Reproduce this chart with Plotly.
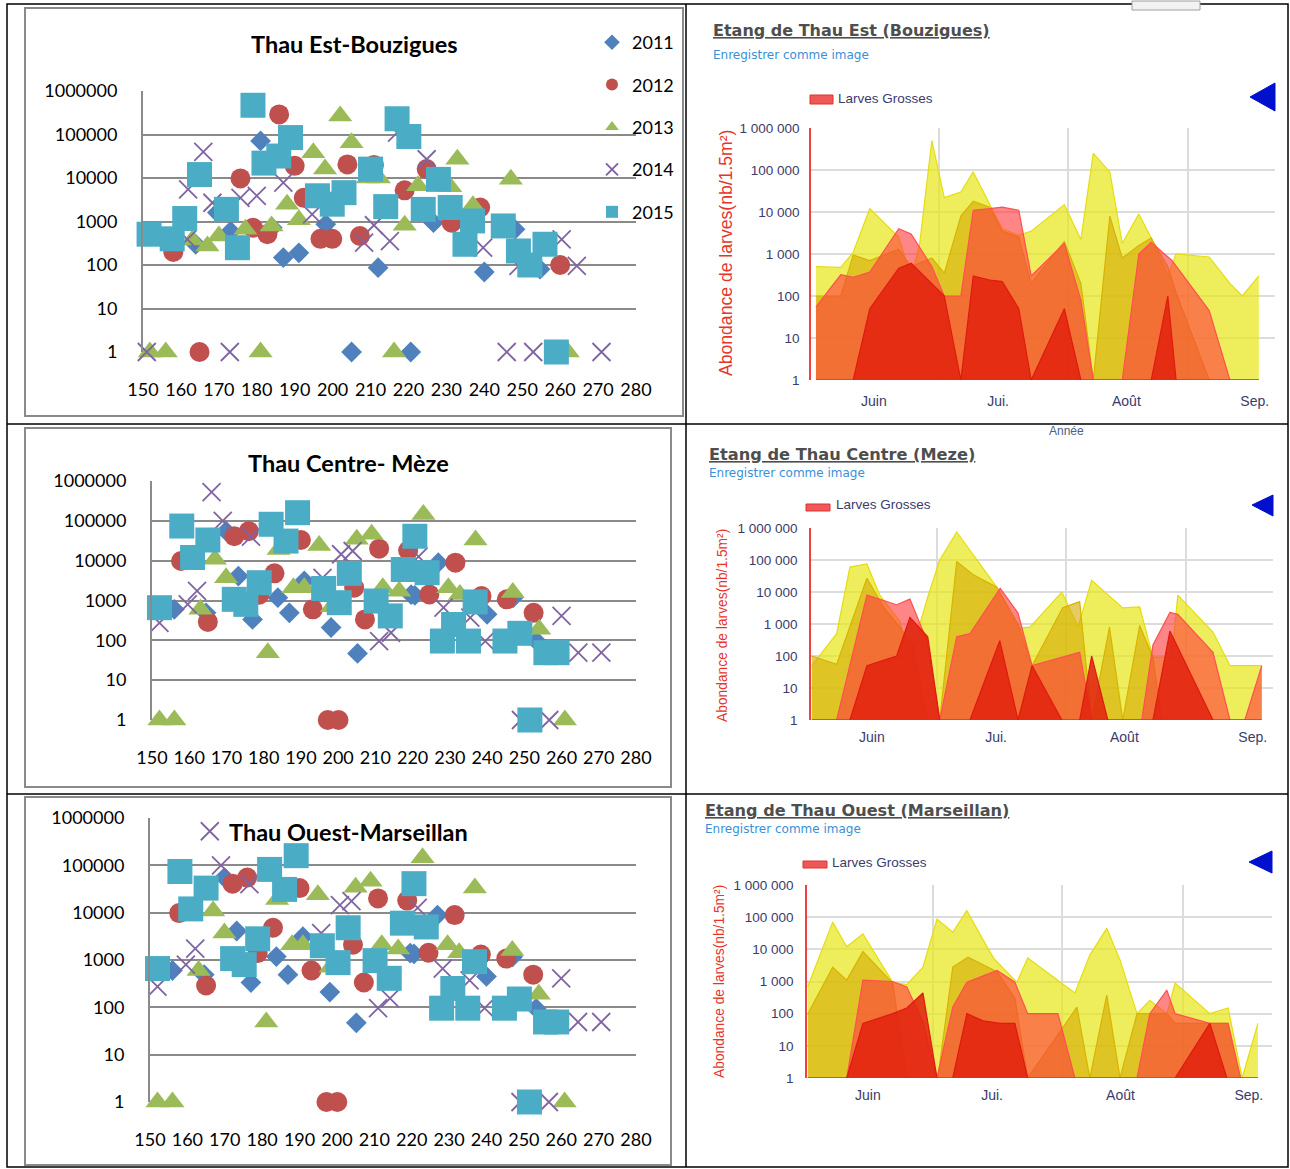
import plotly.graph_objects as go

W, H = 1290, 1169
def px(x): return x / W
def py(y): return 1 - y / H

# ---------------- scatter data (day of year, abundance) ----------------
YEARS = ["2011", "2012", "2013", "2014", "2015"]

est_2011_day = [181, 169.6, 173.1, 163.9, 184.1, 198.2, 187, 191.1, 212, 205, 220.6, 226.6, 240, 248.1, 254.7]
est_2011_val = [71000, 1600, 600, 300, 720, 860, 148, 190, 87, 1, 1, 940, 69, 660, 80]
est_2012_day = [185.9, 175.7, 190, 203.9, 210.9, 192.4, 219, 179, 182.8, 196.8, 199.9, 207.2, 158, 164.9, 224.8, 238.9, 231.4, 260]
est_2012_val = [290000, 9800, 19000, 20500, 20000, 3500, 5200, 720, 510, 400, 400, 465, 200, 1, 16000, 2100, 940, 100]
est_2013_day = [202, 205, 194.9, 198, 209.3, 212.2, 188, 191.1, 183.9, 177, 170, 167, 163, 219, 151.8, 156, 181, 216.2, 232.9, 247, 222.5, 231, 237, 262]
est_2013_val = [265000, 65000, 38000, 16000, 10000, 10000, 2500, 1100, 790, 660, 465, 275, 375, 820, 1, 1, 1, 1, 27000, 9300, 6600, 6300, 2300, 1]
est_2014_day = [165.9, 161.9, 168.3, 175.7, 180, 187, 194.6, 161.7, 210.9, 215.1, 208.3, 151, 172.9, 217, 224.8, 239.7, 260.4, 264.4, 245.9, 252.9, 270.9, 249]
est_2014_val = [40000, 5500, 2700, 3500, 3900, 7800, 1450, 390, 820, 355, 325, 1, 1, 110000, 27000, 250, 390, 95, 1, 1, 1, 95]
est_2015_day = [179, 188.9, 185.8, 181.9, 164.9, 210, 217, 220.1, 196, 199.9, 203, 214, 172, 161, 151.6, 157.7, 174.9, 227.9, 223.9, 231, 236.9, 234.9, 245, 249, 256, 252, 259]
est_2015_val = [470000, 85000, 32000, 22000, 12000, 16000, 230000, 90000, 3900, 2500, 4600, 2200, 1900, 1170, 510, 400, 250, 9300, 1900, 2100, 1030, 300, 790, 210, 300, 100, 1]

cen_2011_day = [169.9, 173.2, 156, 164.5, 177, 183.8, 186.9, 190.9, 198.1, 205.2, 219.6, 226.9, 220.6, 240, 247, 253.3]
cen_2011_val = [55000, 4100, 600, 490, 335, 1180, 490, 3100, 210, 47, 1400, 8900, 1350, 450, 1170, 95]
cen_2012_day = [172.1, 176, 157.8, 182.9, 178.8, 165, 193.2, 190, 204.3, 207.2, 211, 218.8, 197.2, 200.1, 231.5, 224.5, 238.5, 245.3, 252.5]
cen_2012_val = [41000, 55000, 9800, 4800, 1400, 290, 600, 33000, 2100, 335, 20000, 18000, 1, 1, 8900, 1420, 1300, 1070, 490]
cen_2013_day = [194.9, 205, 209, 184, 166.9, 169.9, 188, 190.9, 163, 181.1, 216.4, 212, 222.9, 236.9, 229.6, 232.7, 246.9, 254, 152, 156, 260.9, 198.3]
cen_2013_val = [24000, 34500, 46000, 19000, 10800, 3700, 2100, 2100, 600, 49, 1700, 2100, 145000, 33000, 2100, 1420, 1580, 190, 1, 1, 1, 700]
cen_2014_day = [166, 169, 162.1, 159.6, 152, 176.6, 200.8, 203.9, 211, 214.2, 195.8, 221.6, 228.3, 235.5, 239.5, 260, 264.5, 270.7, 249.1, 256.7]
cen_2014_val = [525000, 100000, 1740, 800, 275, 40000, 14500, 17500, 96, 155, 3700, 12600, 660, 370, 96, 410, 49, 49, 1, 1]
cen_2015_day = [189.1, 182, 158, 165, 186, 160.9, 203, 178.8, 196.1, 200.3, 172.1, 175.2, 152, 210.2, 214, 217.5, 220.6, 223.9, 236.8, 231, 228, 235, 244.8, 248.8, 255.8, 258.8, 251.5]
cen_2015_val = [160000, 82000, 74000, 33000, 31000, 12000, 4800, 2800, 2000, 880, 1070, 800, 660, 970, 410, 6000, 41000, 5000, 920, 250, 96, 96, 96, 150, 49, 49, 1]

EST = {"2011": (est_2011_day, est_2011_val), "2012": (est_2012_day, est_2012_val),
       "2013": (est_2013_day, est_2013_val), "2014": (est_2014_day, est_2014_val),
       "2015": (est_2015_day, est_2015_val)}
CEN = {"2011": (cen_2011_day, cen_2011_val), "2012": (cen_2012_day, cen_2012_val),
       "2013": (cen_2013_day, cen_2013_val), "2014": (cen_2014_day, cen_2014_val),
       "2015": (cen_2015_day, cen_2015_val)}

LEFT_Y_TICKS = [1, 10, 100, 1000, 10000, 100000, 1000000]
LEFT_Y_TEXT = ["1", "10", "100", "1000", "10000", "100000", "1000000"]
LEFT_X_TICKS = list(range(150, 281, 10))

# ---------------- area chart data (day of year, larvae / 1.5 m3) ----------------
est_pet_day = [138, 144, 147, 151, 158, 161, 163, 166, 169, 173, 176, 180, 183, 187, 190, 198, 202, 205, 209, 212, 216, 219, 223, 225, 233, 238, 241, 245]
est_pet_val = [500, 480, 1100, 12000, 2500, 280, 1600, 500000, 22000, 30000, 90000, 15000, 4000, 2800, 3500, 15000, 2200, 250000, 90000, 1800, 9000, 2400, 300, 1000, 850, 200, 100, 300]
est_moy_day = [138, 144, 147, 151, 155, 158, 161, 166, 169, 173, 176, 180, 183, 187, 190, 198, 202, 205, 209, 212, 216, 219, 223, 225, 233, 245]
est_moy_val = [100, 100, 950, 700, 1000, 1300, 500, 800, 350, 8000, 18000, 13000, 3500, 2500, 200, 2000, 200, 1, 8000, 800, 1600, 2400, 500, 120, 1, 1]
est_gro_day = [138, 144, 147, 151, 158, 161, 166, 169, 173, 176, 180, 183, 187, 190, 198, 202, 205, 212, 216, 219, 224, 233, 238, 245]
est_gro_val = [55, 320, 280, 370, 4000, 3000, 500, 100, 100, 11000, 12000, 13000, 11000, 300, 1800, 80, 1, 1, 1000, 1900, 700, 45, 1, 1]
est_ped_day = [138, 147, 151, 158, 161, 169, 173, 176, 180, 183, 187, 190, 198, 202, 219, 223, 225, 245]
est_ped_val = [1, 1, 50, 460, 600, 100, 1, 300, 240, 220, 50, 1, 50, 1, 1, 100, 1, 1]

cen_pet_day = [137.5, 143.5, 146.7, 150.8, 153.9, 158.8, 161.2, 163.1, 165.5, 168.4, 172.5, 176.4, 182.2, 187.3, 190.2, 197.9, 201.8, 205.1, 212.6, 216.7, 219.9, 224.5, 225.9, 234.4, 238.5, 246.2]
cen_pet_val = [50, 500, 60000, 75000, 8000, 1200, 45, 600, 7000, 100000, 750000, 150000, 14000, 750, 800, 10000, 800, 23000, 3200, 3400, 90, 90, 8000, 560, 50, 50]
cen_moy_day = [137.5, 143.5, 150.8, 155.1, 158.8, 161.9, 165.3, 168.4, 172.5, 176.4, 182.2, 187.3, 190.7, 198.1, 202.2, 205.1, 209.4, 212.6, 216.7, 219.9, 222, 246.2]
cen_moy_val = [100, 55, 27000, 3000, 800, 200, 1, 1, 90000, 35000, 14000, 1000, 50, 3200, 5000, 1, 800, 1, 900, 90, 1, 1]
cen_gro_day = [137.5, 143.5, 150.8, 158.0, 161.2, 165.3, 168.4, 172.5, 175.7, 183.0, 187.3, 190.7, 202.2, 205.1, 217.2, 219.9, 224.0, 225.9, 234.4, 238.5, 242.1, 246.2]
cen_gro_val = [1, 1, 8000, 4000, 6000, 300, 1, 400, 500, 13000, 2200, 50, 130, 1, 1, 220, 2300, 2000, 130, 1, 1, 50]
cen_ped_day = [137.5, 146.7, 150.8, 158.0, 161.2, 165.5, 168.4, 175.7, 182.9, 187.3, 190.7, 197.9, 202.2, 205.1, 209.0, 219.9, 224.0, 234.4, 246.2]
cen_ped_val = [1, 1, 50, 100, 1600, 400, 1, 1, 300, 1, 50, 1, 1, 100, 1, 1, 600, 1, 1]

oue_pet_day = [137.5, 143.5, 146.9, 150.8, 158.0, 161.4, 165.3, 168.7, 172.5, 175.9, 179.8, 182.5, 188.0, 190.6, 202.0, 205.6, 209.7, 212.9, 217.0, 220.1, 224.2, 226.2, 234.6, 239.0, 242.4, 246.2]
oue_pet_val = [700, 70000, 12000, 30000, 950, 800, 2800, 87000, 34000, 160000, 20000, 5000, 950, 5400, 440, 6600, 45000, 4600, 100, 260, 100, 900, 100, 150, 1, 50]
oue_moy_day = [137.5, 143.5, 146.9, 150.8, 158.0, 161.4, 168.9, 172.5, 176.2, 183.2, 187.5, 190.6, 202.5, 205.6, 209.7, 212.9, 217.0, 224.2, 226.2, 239.0, 242.0, 246.2]
oue_moy_val = [100, 2800, 1100, 8500, 900, 1, 1, 2800, 5700, 2000, 300, 1, 160, 1, 380, 1, 100, 100, 50, 50, 1, 1]
oue_gro_day = [137.5, 146.9, 150.8, 158.0, 161.4, 165.3, 168.7, 172.5, 175.9, 183.2, 187.5, 190.6, 197.9, 202.0, 217.0, 220.1, 224.2, 226.2, 234.6, 239.0, 242.0, 246.2]
oue_gro_val = [1, 1, 1100, 1000, 680, 55, 1, 160, 950, 2200, 950, 100, 100, 1, 1, 100, 540, 100, 50, 50, 1, 1]
oue_ped_day = [137.5, 146.9, 150.8, 158.0, 161.4, 165.3, 168.7, 172.5, 175.9, 179.8, 183.9, 187.5, 190.6, 226.2, 234.6, 238.7, 246.2]
oue_ped_val = [1, 1, 50, 100, 150, 440, 1, 1, 100, 60, 50, 50, 1, 1, 50, 1, 1]

RIGHT_Y_TICKS = [1, 10, 100, 1000, 10000, 100000, 1000000]
RIGHT_Y_TEXT = ["1", "10", "100", "1 000", "10 000", "100 000", "1 000 000"]
MONTH_TICKS = [152, 182, 213, 244]
MONTH_TEXT = ["Juin", "Jui.", "Août", "Sep."]
MONTH_GRID = [167.7, 198.8, 228.0]

# ---------------- styles ----------------
COLORS = {"2011": "#4F81BD", "2012": "#C0504D", "2013": "#9BBB59", "2014": "#8064A2", "2015": "#4BACC6"}
SYMBOLS = {"2011": "diamond", "2012": "circle", "2013": "triangle-up", "2014": "x-thin", "2015": "square"}
SIZES = {"2011": 16, "2012": 20, "2013": 21, "2014": 18, "2015": 25}

AREA_STYLE = [
    ("Larves Petites", "rgba(232,232,30,0.72)", "#E6DC10"),
    ("Larves Moyennes", "rgba(212,168,0,0.6)", "#D8B400"),
    ("Larves Grosses", "rgba(255,60,60,0.62)", "#FF5050"),
    ("Pédivéligères", "rgba(225,35,15,0.88)", "#E01A10"),
]

fig = go.Figure()

def add_scatter_panel(n, data, showlegend):
    for yr in YEARS:
        days, vals = data[yr]
        sym = SYMBOLS[yr]
        m = dict(symbol=sym, size=SIZES[yr], color=COLORS[yr])
        m["line"] = dict(color=COLORS[yr], width=1.8) if sym == "x-thin" else dict(width=0)
        fig.add_trace(go.Scatter(x=days, y=vals, mode="markers", marker=m, name=yr,
                                 legendgroup=yr, showlegend=showlegend,
                                 xaxis=f"x{n}", yaxis=f"y{n}", cliponaxis=False,
                                 hoverinfo="skip"))

add_scatter_panel(1, EST, True)
add_scatter_panel(2, CEN, False)
add_scatter_panel(3, CEN, False)

def add_area_panel(n, series):
    for (name, fillc, linec), (days, vals) in zip(AREA_STYLE, series):
        fig.add_trace(go.Scatter(x=days, y=vals, mode="lines", fill="tozeroy",
                                 fillcolor=fillc, line=dict(color=linec, width=1.2),
                                 name=name, showlegend=False, xaxis=f"x{n}", yaxis=f"y{n}",
                                 hoverinfo="skip"))

add_area_panel(4, [(est_pet_day, est_pet_val), (est_moy_day, est_moy_val),
                   (est_gro_day, est_gro_val), (est_ped_day, est_ped_val)])
add_area_panel(5, [(cen_pet_day, cen_pet_val), (cen_moy_day, cen_moy_val),
                   (cen_gro_day, cen_gro_val), (cen_ped_day, cen_ped_val)])
add_area_panel(6, [(oue_pet_day, oue_pet_val), (oue_moy_day, oue_moy_val),
                   (oue_gro_day, oue_gro_val), (oue_ped_day, oue_ped_val)])

layout = dict(width=W, height=H, autosize=False,
              margin=dict(l=0, r=0, t=0, b=0, pad=0, autoexpand=False),
              paper_bgcolor="white", plot_bgcolor="rgba(0,0,0,0)")

LFONT = dict(family="Lato, Calibri, sans-serif", size=18, color="black")
def left_axes(n, x0, x1, y_top, y_bot):
    layout[f"xaxis{n}"] = dict(domain=[px(x0), px(x1)], range=[150, 280], tickmode="array",
                               tickvals=LEFT_X_TICKS, showgrid=False, zeroline=False,
                               showline=False, ticks="outside", ticklen=21,
                               tickcolor="rgba(0,0,0,0)", tickfont=LFONT, anchor=f"y{n}",
                               automargin=False, fixedrange=True)
    layout[f"yaxis{n}"] = dict(domain=[py(y_bot), py(y_top)], type="log", range=[0, 6],
                               tickmode="array", tickvals=LEFT_Y_TICKS, ticktext=LEFT_Y_TEXT,
                               showgrid=True, gridcolor="#8A8A8A", gridwidth=2,
                               showline=True, linecolor="#8A8A8A", linewidth=2,
                               zeroline=False, ticks="outside", ticklen=20,
                               tickcolor="rgba(0,0,0,0)", tickfont=LFONT, anchor=f"x{n}",
                               automargin=False, fixedrange=True)

left_axes(1, 143, 636, 91, 352)
left_axes(2, 152, 636, 481, 720)
left_axes(3, 150, 636, 818, 1102)

RTICK = dict(family="Liberation Sans, Arial, sans-serif", size=13.5, color="#3B3B6B")
def right_axes(n, x0, x1, y_top, y_bot, xr, xlen, ylen):
    layout[f"xaxis{n}"] = dict(domain=[px(x0), px(x1)], range=xr, tickmode="array",
                               tickvals=MONTH_TICKS, ticktext=MONTH_TEXT, showgrid=False,
                               zeroline=False, showline=False, ticks="outside", ticklen=xlen,
                               tickcolor="rgba(0,0,0,0)",
                               tickfont=dict(family="Liberation Sans, Arial, sans-serif",
                                             size=14, color="#3B3B6B"),
                               minor=dict(tickmode="array", tickvals=MONTH_GRID, showgrid=True,
                                          gridcolor="#DCDCDC", gridwidth=1.5, ticks=""),
                               anchor=f"y{n}", automargin=False, fixedrange=True)
    layout[f"yaxis{n}"] = dict(domain=[py(y_bot), py(y_top)], type="log", range=[0, 6],
                               tickmode="array", tickvals=RIGHT_Y_TICKS, ticktext=RIGHT_Y_TEXT,
                               showgrid=True, gridcolor="#DCDCDC", gridwidth=1.5,
                               showline=True, linecolor="#F04040", linewidth=1.5,
                               zeroline=False, ticks="outside", ticklen=ylen,
                               tickcolor="rgba(0,0,0,0)", tickfont=RTICK, anchor=f"x{n}",
                               automargin=False, fixedrange=True)

right_axes(4, 811, 1275, 128, 380, [136.8, 248.9], 8, 7)
right_axes(5, 811, 1273, 528, 720, [137.3, 248.9], 4, 9)
right_axes(6, 807, 1272, 885, 1078, [137.3, 249.6], 4, 9)

layout["legend"] = dict(x=px(592), y=py(24), xanchor="left", yanchor="top",
                        font=dict(family="Lato, Calibri, sans-serif", size=18, color="black"),
                        tracegroupgap=16, itemsizing="constant", traceorder="grouped",
                        bgcolor="rgba(0,0,0,0)")

fig.update_layout(**layout)

# ---------------- decorations ----------------
shapes = []
def sline(x0, y0, x1, y1, color, width):
    shapes.append(dict(type="line", xref="paper", yref="paper", x0=px(x0), y0=py(y0),
                       x1=px(x1), y1=py(y1), line=dict(color=color, width=width), layer="above"))
def srect(x0, y0, x1, y1, color, width, fill="rgba(0,0,0,0)"):
    shapes.append(dict(type="rect", xref="paper", yref="paper", x0=px(x0), y0=py(y0),
                       x1=px(x1), y1=py(y1), line=dict(color=color, width=width),
                       fillcolor=fill, layer="above"))
def stri(tip, top, bot):
    path = (f"M {px(tip[0])},{py(tip[1])} L {px(top[0])},{py(top[1])} "
            f"L {px(bot[0])},{py(bot[1])} Z")
    shapes.append(dict(type="path", xref="paper", yref="paper", path=path,
                       fillcolor="#0010CC", line=dict(color="#0010CC", width=1)))

# table grid
srect(7, 4, 1288, 1167, "black", 1.5)
sline(686, 4, 686, 1167, "black", 1.5)
sline(7, 424, 1288, 424, "black", 1.5)
sline(7, 794, 1288, 794, "black", 1.5)
# excel chart frames
srect(25, 8, 683, 416, "#8A8A8A", 2)
srect(25, 428, 671, 787, "#8A8A8A", 2)
srect(25, 797, 671, 1165, "#8A8A8A", 2)
# small grey button remnant
srect(1132, 1, 1200, 10, "#A0A0A0", 1, "#F2F2F2")
# legend swatches
srect(810, 95, 833, 104, "#E03030", 1, "#EE5858")
srect(806, 504, 830, 511, "#E03030", 1, "#EE5858")
srect(803, 861, 827, 868, "#E03030", 1, "#EE5858")
# nav arrows
stri((1250, 97), (1275, 83), (1275, 111))
stri((1252, 505), (1273, 495), (1273, 516))
stri((1249, 862), (1272, 851), (1272, 873))

annots = []
def ann(x, y, text, size, color, family, xanchor="center", angle=0):
    annots.append(dict(x=px(x), y=py(y), xref="paper", yref="paper", text=text,
                       showarrow=False, xanchor=xanchor, yanchor="middle", textangle=angle,
                       font=dict(size=size, color=color, family=family)))

TF = "Lato, Calibri, sans-serif"
ann(354, 44, "<b>Thau Est-Bouzigues</b>", 23.5, "black", TF)
ann(348, 463, "<b>Thau Centre- Mèze</b>", 23.5, "black", TF)
ann(348, 832, "<b>Thau Ouest-Marseillan</b>", 23.5, "black", TF)

VF = "DejaVu Sans, Verdana, sans-serif"
AF = "Liberation Sans, Arial, sans-serif"
for (x, yt, ys, title, tsize) in [(713, 30, 55, "Etang de Thau Est (Bouzigues)", 16),
                                  (709, 454, 473, "Etang de Thau Centre (Meze)", 16.2),
                                  (705, 810, 829, "Etang de Thau Ouest (Marseillan)", 16.1)]:
    ann(x - 2, yt, f"<b><u>{title}</u></b>", tsize, "#4E4E4E", VF, "left")
    ann(x - 2, ys, "Enregistrer comme image", 12, "#3A8FD8", VF, "left")
ann(836, 98, "Larves Grosses", 13.5, "#3B3B6B", AF, "left")
ann(834, 505, "Larves Grosses", 13.5, "#3B3B6B", AF, "left")
ann(830, 862, "Larves Grosses", 13.5, "#3B3B6B", AF, "left")

YT = "Abondance de larves(nb/1.5m²)"
ann(726, 253, YT, 17.6, "#E8332A", AF, angle=-90)
ann(722, 625, YT, 13.8, "#E8332A", AF, angle=-90)
ann(719, 982, YT, 13.8, "#E8332A", AF, angle=-90)
ann(1066, 431, "Année", 12, "#4A5F8A", AF)

fig.update_layout(shapes=shapes, annotations=annots)

fig.write_html("out.html", include_plotlyjs=True, config={"displayModeBar": False},
               post_script="document.body.style.margin='0px';document.body.style.overflow='hidden';")
